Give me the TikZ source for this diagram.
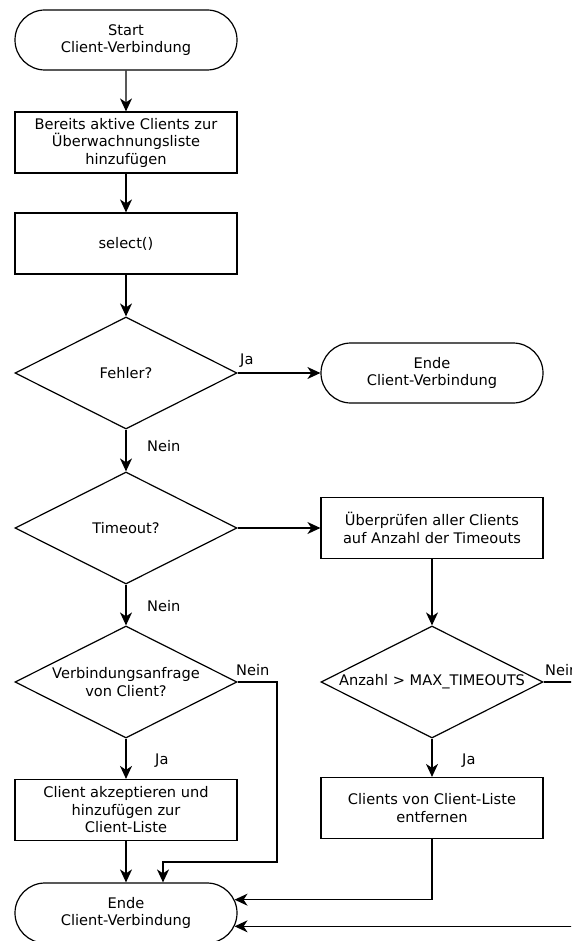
\documentclass[tikz,border=0pt]{standalone}
\usepackage{fontspec}
\setmainfont{DejaVu Sans}
\usetikzlibrary{shapes.misc,shapes.geometric,arrows.meta,calc}
\begin{document}
\begin{tikzpicture}[x=1pt,y=-1pt,
  every node/.style={font=\fontsize{14.6}{17.5}\selectfont},
  base/.style={draw=black, line width=1.2pt, align=center, inner sep=0pt},
  terminal/.style={base, rounded rectangle, minimum width=222pt, minimum height=60pt},
  process/.style={base, rectangle, minimum width=222pt, minimum height=61pt},
  decision/.style={base, diamond, aspect=1.98, minimum width=222pt, minimum height=112pt},
  flow/.style={line width=1.2pt, -{Stealth[length=13pt,width=12pt,inset=4pt]}},
  tag/.style={anchor=base west, inner sep=0pt}
]
\useasboundingbox (0,0) rectangle (571,941);
\fill[white] (0,0) rectangle (571,941);
\clip (0,0) rectangle (571,941);

% left column
\node[terminal] (start) at (126,40) {Start\\Client-Verbindung};
\node[process] (add) at (126,142.5) {Bereits aktive Clients zur\\Überwachnungsliste\\hinzufügen};
\node[process] (sel) at (126,243.5) {select()};
\node[decision] (err) at (126,373) {Fehler?};
\node[decision] (tmo) at (126,528) {Timeout?};
\node[decision] (req) at (126,682) {Verbindungsanfrage\\von Client?};
\node[process] (acc) at (126,810) {Client akzeptieren und\\hinzufügen zur\\Client-Liste};
\node[terminal] (endB) at (126,913) {Ende\\Client-Verbindung};

% right column
\node[terminal] (endA) at (432,373) {Ende\\Client-Verbindung};
\node[process] (chk) at (432,528) {Überprüfen aller Clients\\auf Anzahl der Timeouts};
\node[decision] (max) at (432,682) {Anzahl > MAX\_TIMEOUTS};
\node[process] (rem) at (432,808) {Clients von Client-Liste\\entfernen};

% main flow
\draw[flow] (start) -- (add);
\draw[flow] (add) -- (sel);
\draw[flow] (sel) -- (err);
\draw[flow] (err.east) -- (endA.west);
\node[tag] (jaA) at (240,364) {Ja};
\draw[flow] (err.south) -- (tmo.north);
\node[tag] (neinA) at (147,451) {Nein};
\draw[flow] (tmo.east) -- (chk.west);
\draw[flow] (tmo.south) -- (req.north);
\node[tag] (neinB) at (147,611) {Nein};
\draw[flow] (chk.south) -- (max.north);
\draw[flow] (req.south) -- (acc.north);
\node[tag] (jaB) at (155,764) {Ja};
\draw[flow] (max.south) -- (rem.north);
\node[tag] (jaC) at (462,764) {Ja};
\draw[flow] (acc.south) -- (endB.north);

% branches back to the end terminal
\coordinate (reqR) at (277,682);
\coordinate (reqD) at (277,862);
\draw[flow] (req.east) -- (reqR) -- (reqD) -| ([xshift=37pt]endB.north);
\node[tag] (neinC) at (236,675) {Nein};
\draw[flow] (rem.south) |- (endB.7);
\coordinate (maxR) at (600,682);
\draw[flow] (max.east) -- (maxR) |- (endB.-7);
\node[tag] (neinD) at (545,675) {Nein};
\end{tikzpicture}
\end{document}
